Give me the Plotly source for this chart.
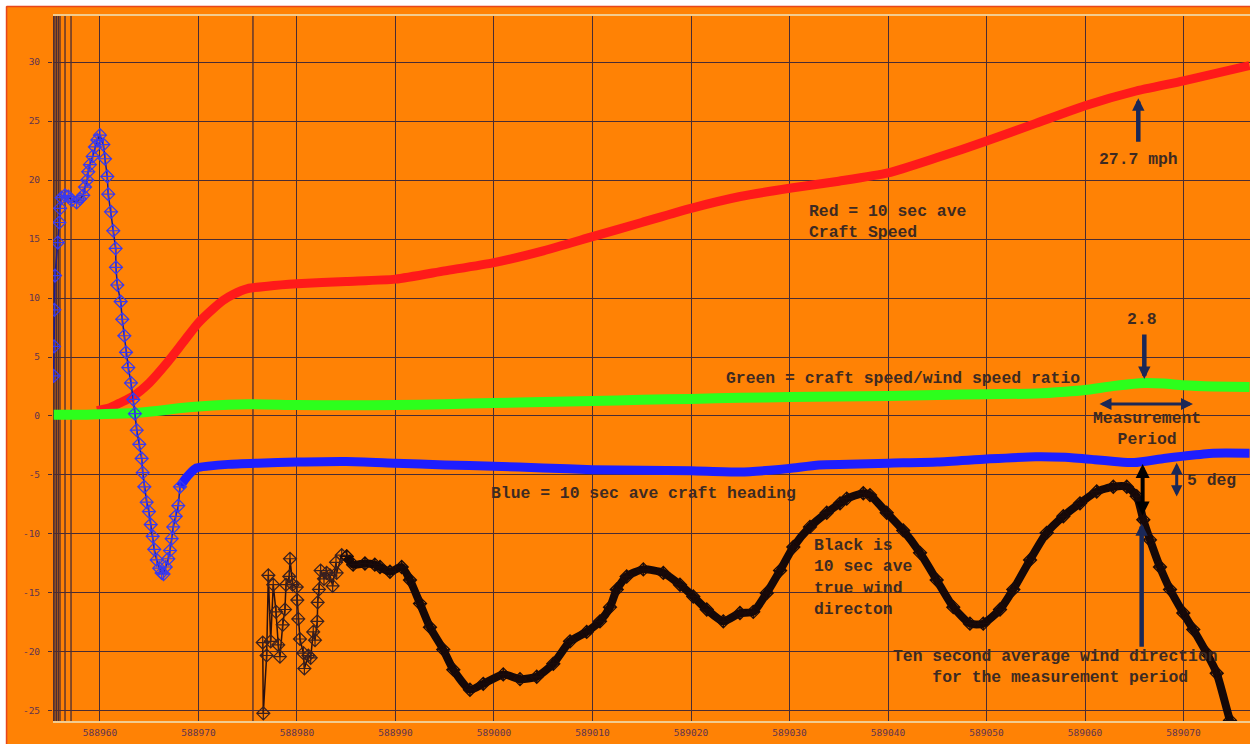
import plotly.graph_objects as go

# ---------------- data ----------------
x_ticks = [588960, 588970, 588980, 588990, 589000, 589010, 589020, 589030, 589040, 589050, 589060, 589070]
x_tick_labels = ["588960", "588970", "588980", "588990", "589000", "589010", "589020", "589030", "589040", "589050", "589060", "589070"]
y_ticks = [30, 25, 20, 15, 10, 5, 0, -5, -10, -15, -20, -25]
y_tick_labels = ["30", "25", "20", "15", "10", "5", "0", "-5", "-10", "-15", "-20", "-25"]

extra_vlines = [588955.30, 588955.43, 588955.60, 588955.77, 588955.94, 588956.45, 588957.06, 588975.53]

# Red = 10 sec ave craft speed (mph)
speed_x = [588959.7, 588961.0, 588962.0, 588963.4, 588965.0, 588966.8, 588968.4, 588970.0, 588971.5,
           588972.5, 588973.5, 588975.0, 588977.0, 588980.0, 588985.0, 588990.0, 588995.0, 589000.0,
           589005.0, 589010.0, 589015.0, 589020.0, 589025.0, 589030.0, 589035.0, 589040.0, 589045.0,
           589050.0, 589055.0, 589060.0, 589065.0, 589070.0, 589076.7]
speed_y = [0.45, 0.7, 1.1, 1.7, 2.8, 4.5, 6.2, 7.9, 9.1,
           9.8, 10.3, 10.8, 11.0, 11.2, 11.4, 11.6, 12.3, 13.0,
           14.0, 15.2, 16.4, 17.6, 18.6, 19.3, 19.9, 20.6, 21.9,
           23.3, 24.8, 26.3, 27.5, 28.4, 29.7]

# Green = craft speed / wind speed ratio
ratio_x = [588955.3, 588958.0, 588960.0, 588963.4, 588966.0, 588968.0, 588970.0, 588973.0, 588975.0,
           588980.0, 588985.0, 588990.0, 588995.0, 589000.0, 589005.0, 589010.0, 589015.0, 589020.0,
           589025.0, 589030.0, 589035.0, 589040.0, 589045.0, 589050.0, 589055.0, 589058.0, 589060.0,
           589063.0, 589066.0, 589068.0, 589070.0, 589073.0, 589076.7]
ratio_y = [0.1, 0.1, 0.15, 0.25, 0.45, 0.65, 0.8, 0.95, 1.0,
           0.93, 0.9, 0.93, 1.0, 1.1, 1.18, 1.27, 1.37, 1.45,
           1.55, 1.6, 1.65, 1.7, 1.78, 1.85, 1.9, 2.05, 2.2,
           2.55, 2.8, 2.75, 2.6, 2.5, 2.45]

# Blue = 10 sec ave craft heading, early (sparse samples)
heading_early_x = [588955.30, 588955.34, 588955.36, 588955.43, 588955.72, 588955.87, 588955.95, 588956.11,
                   588956.45, 588956.78, 588957.12, 588957.63, 588957.97, 588958.30, 588958.48, 588958.71,
                   588958.81, 588958.98, 588959.26, 588959.49, 588959.73, 588960.00, 588960.34, 588960.51,
                   588960.74, 588960.84, 588961.12, 588961.35, 588961.59, 588961.62, 588961.76, 588962.10,
                   588962.26, 588962.47, 588962.64, 588962.87, 588963.15, 588963.38, 588963.55, 588963.73,
                   588963.99, 588964.23, 588964.34, 588964.50, 588964.74, 588964.97, 588965.15, 588965.35,
                   588965.51, 588965.76, 588966.02, 588966.26, 588966.45, 588966.67, 588966.93, 588967.11,
                   588967.28, 588967.44, 588967.69, 588967.95, 588968.12]
heading_early_y = [3.4, 5.9, 9.0, 11.9, 14.7, 16.4, 17.6, 18.5,
                   18.7, 18.6, 18.3, 18.1, 18.4, 18.7, 19.4, 20.0,
                   20.7, 21.3, 22.0, 22.8, 23.4, 23.8, 23.0, 21.8,
                   20.3, 18.8, 17.3, 15.7, 14.2, 12.6, 11.1, 9.7,
                   8.2, 6.8, 5.4, 4.1, 2.8, 1.4, 0.2, -1.2,
                   -2.4, -3.6, -4.8, -6.0, -7.3, -8.1, -9.2, -10.2,
                   -11.3, -12.2, -12.9, -13.3, -13.4, -12.8, -12.1, -11.4,
                   -10.4, -9.4, -8.5, -7.6, -6.0]

# Blue, later (dense samples)
heading_x = [588968.12, 588968.6, 588969.1, 588969.8, 588971.0, 588973.0, 588976.0, 588980.0, 588985.0,
             588990.0, 588995.0, 589000.0, 589005.0, 589010.0, 589015.0, 589020.0, 589025.0, 589028.0,
             589030.0, 589033.0, 589036.0, 589040.0, 589045.0, 589050.0, 589055.0, 589058.0, 589061.0,
             589063.0, 589065.0, 589068.0, 589070.0, 589073.0, 589076.7]
heading_y = [-6.0, -5.4, -4.9, -4.4, -4.25, -4.1, -4.0, -3.9, -3.85,
             -4.0, -4.15, -4.25, -4.4, -4.55, -4.6, -4.65, -4.75, -4.6,
             -4.45, -4.15, -4.1, -4.0, -3.9, -3.65, -3.45, -3.5, -3.7,
             -3.85, -3.95, -3.6, -3.4, -3.15, -3.15]

# Black = 10 sec ave true wind direction, early (sparse samples)
wind_early_x = [588976.52, 588976.58, 588976.92, 588977.09, 588977.33, 588977.59, 588977.87, 588978.10,
                588978.27, 588978.55, 588978.78, 588978.88, 588979.22, 588979.29, 588979.56, 588979.97,
                588980.03, 588980.13, 588980.30, 588980.65, 588980.75, 588981.15, 588981.39, 588981.65,
                588981.83, 588982.06, 588982.10, 588982.23, 588982.40, 588982.74, 588983.01, 588983.35,
                588983.62, 588983.96, 588984.03, 588984.54, 588985.05]
wind_early_y = [-19.2, -25.2, -20.3, -13.5, -19.1, -14.3, -16.6, -19.4,
                -20.4, -17.7, -16.4, -14.3, -13.6, -12.1, -14.3, -14.5,
                -15.6, -17.2, -18.9, -20.1, -21.4, -20.3, -20.5, -18.3,
                -19.0, -17.4, -15.8, -14.7, -13.1, -13.8, -13.3, -13.5,
                -14.4, -12.4, -13.3, -11.8, -11.9]

# Black, later (dense samples)
wind_x = [588985.05, 588985.7, 588986.9, 588987.9, 588988.43, 588989.44, 588990.63, 588991.47, 588992.49,
          588993.50, 588994.85, 588995.87, 588997.56, 588998.91, 589000.94, 589002.64, 589004.34, 589006.02,
          589007.72, 589009.41, 589010.76, 589011.78, 589012.46, 589013.47, 589015.16, 589017.19, 589018.88,
          589020.23, 589021.60, 589023.28, 589024.97, 589026.32, 589027.69, 589029.04, 589030.39, 589032.08,
          589033.78, 589035.13, 589035.81, 589037.49, 589038.17, 589039.87, 589041.55, 589043.25, 589044.94,
          589046.63, 589048.32, 589049.67, 589051.37, 589052.72, 589054.42, 589056.11, 589057.80, 589059.49,
          589061.19, 589062.87, 589064.24, 589065.25, 589065.92, 589066.60, 589067.61, 589068.63, 589069.98,
          589070.99, 589072.35, 589073.37, 589074.72, 589075.5]
wind_y = [-11.9, -12.6, -12.5, -12.6, -12.8, -13.2, -12.8, -13.9, -15.9,
          -17.9, -19.8, -21.5, -23.2, -22.7, -21.9, -22.3, -22.1, -21.0,
          -19.1, -18.3, -17.4, -16.2, -14.7, -13.6, -13.0, -13.3, -14.3,
          -15.3, -16.4, -17.4, -16.7, -16.6, -15.0, -13.1, -11.1, -9.4,
          -8.2, -7.4, -7.0, -6.55, -6.7, -8.2, -9.7, -11.6, -13.9,
          -16.2, -17.6, -17.6, -16.4, -14.7, -12.2, -9.9, -8.5, -7.4,
          -6.4, -6.0, -6.0, -6.8, -8.8, -10.5, -12.8, -14.7, -16.7,
          -18.1, -20.1, -21.8, -25.8, -27.5]

# ---------------- styles ----------------
ORANGE = "#ff8205"
GRID = "#4a2c34"
TXT = "#3d2a22"
NAVY = "#1b2857"
FONT = "Liberation Mono"
NB = "\u00a0"

fig = go.Figure()

fig.add_trace(go.Scatter(x=speed_x, y=speed_y, mode="lines",
                         line=dict(color="#ff1a1a", width=9, shape="spline", smoothing=0.6)))
fig.add_trace(go.Scatter(x=ratio_x, y=ratio_y, mode="lines",
                         line=dict(color="#2cff1c", width=10, shape="spline", smoothing=0.6)))
fig.add_trace(go.Scatter(x=heading_x, y=heading_y, mode="lines",
                         line=dict(color="#1e1eff", width=9, shape="spline", smoothing=0.6)))
fig.add_trace(go.Scatter(x=heading_early_x, y=heading_early_y, mode="lines+markers",
                         line=dict(color="#1a1a90", width=1.5),
                         marker=dict(symbol="diamond-cross-open", size=10, color="#3a3aee",
                                     line=dict(width=1.2))))
fig.add_trace(go.Scatter(x=wind_early_x, y=wind_early_y, mode="lines+markers",
                         line=dict(color="#2a1010", width=1.5),
                         marker=dict(symbol="diamond-cross-open", size=10, color="#3a2020",
                                     line=dict(width=1.2))))
fig.add_trace(go.Scatter(x=wind_x, y=wind_y, mode="lines+markers",
                         line=dict(color="#150808", width=8, shape="spline", smoothing=0.6),
                         marker=dict(symbol="diamond-cross-open", size=10, color="#1a0a0a",
                                     line=dict(width=1.3))))

shapes = []
for xv in extra_vlines:
    shapes.append(dict(type="line", xref="x", yref="paper", x0=xv, x1=xv, y0=0, y1=1,
                       line=dict(color=GRID, width=1.3), layer="below"))
# white page margin with a red frame on top-left
shapes.append(dict(type="rect", xref="paper", yref="paper", x0=-0.06, x1=-0.0393, y0=-0.06, y1=1.06,
                   fillcolor="white", line=dict(width=0), layer="above"))
shapes.append(dict(type="rect", xref="paper", yref="paper", x0=-0.06, x1=1.06, y0=1.0142, y1=1.06,
                   fillcolor="white", line=dict(width=0), layer="above"))
shapes.append(dict(type="line", xref="paper", yref="paper", x0=-0.0388, x1=-0.0388, y0=-0.04, y1=1.0135,
                   line=dict(color="#e8461a", width=1.5), layer="above"))
shapes.append(dict(type="line", xref="paper", yref="paper", x0=-0.0388, x1=1.01, y0=1.0135, y1=1.0135,
                   line=dict(color="#e8461a", width=1.5), layer="above"))

annotations = []


def label(text, x, y, anchor="left", align="left"):
    annotations.append(dict(text=text, x=x, y=y, xref="x", yref="y", showarrow=False,
                            xanchor=anchor, yanchor="middle", align=align, borderpad=0,
                            font=dict(family=FONT, size=16.4, color=TXT, weight="bold")))


def arrow(x, y, ax, ay, color, width, size, both=False):
    annotations.append(dict(text="", x=x, y=y, ax=ax, ay=ay, xref="x", yref="y",
                            axref="x", ayref="y", showarrow=True, arrowhead=2,
                            arrowsize=size, arrowwidth=width, arrowcolor=color,
                            arrowside="end+start" if both else "end", standoff=0, startstandoff=0))


label("27.7 mph", 589065.42, 21.78, "center")
label("Red = 10 sec ave<br>Craft Speed", 589031.88, 16.48)
label("2.8", 589065.79, 8.14, "center")
label("Green = craft speed/wind speed ratio", 589023.45, 3.22)
label("Measurement<br>Period", 589066.3, -1.12, "center", "center")
label("Blue = 10 sec ave craft heading", 588999.59, -6.53)
label("5 deg", 589070.25, -5.48)
label("Black is<br>10 sec ave<br>true wind<br>directon", 589032.39, -13.69)
label("Ten second average wind direction<br>" + NB * 4 + "for the measurement period", 589040.37, -21.25)

arrow(589065.41, 26.92, 589065.41, 23.11, NAVY, 4.5, 0.55)
arrow(589066.02, 3.14, 589066.02, 7.03, NAVY, 4.5, 0.55)
arrow(589070.96, 1.02, 589061.32, 1.02, NAVY, 3, 0.8, both=True)
arrow(589065.85, -4.07, 589065.85, -8.56, "#000000", 4, 0.7, both=True)
arrow(589069.31, -3.96, 589069.31, -6.95, NAVY, 3, 0.75, both=True)
arrow(589065.75, -9.09, 589065.75, -19.69, NAVY, 4.5, 0.55)

tickfont = dict(family="DejaVu Sans Mono", size=9.5, color="#5e3350")

fig.update_layout(
    width=1250, height=744, autosize=False,
    margin=dict(l=53, r=0, t=16, b=23),
    paper_bgcolor=ORANGE, plot_bgcolor=ORANGE,
    showlegend=False,
    shapes=shapes, annotations=annotations,
    xaxis=dict(range=[588955.23, 589076.75], tickmode="array", tickvals=x_ticks, ticktext=x_tick_labels,
               showgrid=True, gridcolor=GRID, gridwidth=1.3, zeroline=False,
               showline=True, mirror=True, linecolor="#f2cc90", linewidth=2,
               ticks="", tickfont=tickfont, ticklabelstandoff=2),
    yaxis=dict(range=[-25.85, 33.9], tickmode="array", tickvals=y_ticks, ticktext=y_tick_labels,
               showgrid=True, gridcolor=GRID, gridwidth=1.3, zeroline=False,
               showline=False, ticks="outside", ticklen=4, tickcolor=GRID,
               tickfont=tickfont, ticklabelstandoff=6),
)

fig.write_html("out.html")
